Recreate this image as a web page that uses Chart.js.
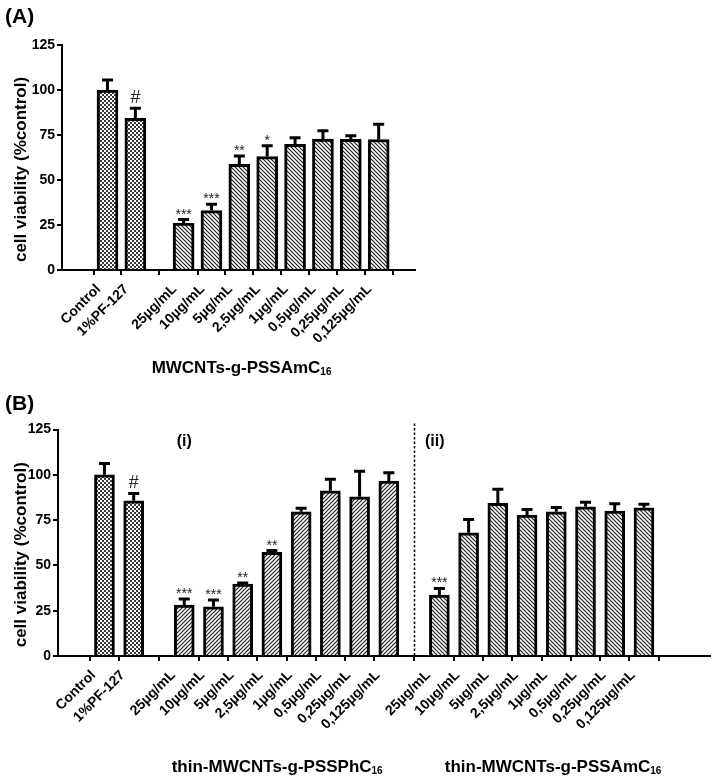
<!DOCTYPE html>
<html>
<head>
<meta charset="utf-8">
<script src="https://cdn.jsdelivr.net/npm/chart.js@4.4.0/dist/chart.umd.min.js"></script>
<style>
html, body { margin: 0; padding: 0; background: #fff; }
#wrap { position: relative; width: 715px; height: 782px; }
canvas { position: absolute; left: 0; }
#chartA { top: 0; }
#chartB { top: 390px; }
</style>
</head>
<body>
<div id="wrap">
  <canvas id="chartA" width="715" height="390"></canvas>
  <canvas id="chartB" width="715" height="392"></canvas>
</div>
<script>
// dados
const labelsA = ['Control', '1%PF-127', '25µg/mL', '10µg/mL', '5µg/mL', '2,5µg/mL', '1µg/mL', '0,5µg/mL', '0,25µg/mL', '0,125µg/mL'];
const valuesA = [100, 84.3, 26, 33, 58.7, 63, 69.8, 72.8, 72.6, 72.5];
const errorsA = [5.5, 5.5, 2, 3.5, 4.6, 6, 3.7, 4.6, 2, 8.5];
const marksA  = ['', '#', '***', '***', '**', '*', '', '', '', ''];

const concLabels = ['25µg/mL', '10µg/mL', '5µg/mL', '2,5µg/mL', '1µg/mL', '0,5µg/mL', '0,25µg/mL', '0,125µg/mL'];
const labelsB = ['Control', '1%PF-127'].concat(concLabels, concLabels);
const valuesB = [100, 85.7, 28.1, 27.2, 39.7, 57.2, 79.6, 91.2, 87.9, 96.5,
                 33.6, 68, 84.2, 77.8, 79.6, 82.3, 80, 81.8];
const errorsB = [6.3, 4, 3.3, 3.7, 0.6, 1, 2, 6.4, 14, 4.6,
                 3.7, 7.4, 7.8, 3, 2.4, 2.5, 4, 2];
const marksB  = ['', '#', '***', '***', '**', '**', '', '', '', '',
                 '***', '', '', '', '', '', '', ''];

const FONT = "'Liberation Sans', Arial, sans-serif";
const GAP = 0.73; // espaço extra entre grupos (em larguras de barra)

// posição de cada barra no eixo x: controlos, depois grupos de 8 separados por GAP
function posicoes(n) {
    const out = [];
    for (let i = 0; i < n; i++) {
        if (i < 2) out.push(i);
        else out.push(i + GAP * (1 + Math.floor((i - 2) / 8)));
    }
    return out;
}
const posA = posicoes(labelsA.length);
const posB = posicoes(labelsB.length);

function makePattern(ctx, kind) {
    const c = document.createElement('canvas');
    const g = c.getContext('2d');
    const n = 4;
    c.width = n; c.height = n;
    g.fillStyle = '#fff';
    g.fillRect(0, 0, n, n);
    if (kind === 'check') {
        g.fillStyle = '#3a3a3a';
        g.fillRect(0, 0, 2, 2);
        g.fillRect(2, 2, 2, 2);
    } else {
        g.strokeStyle = '#222';
        g.lineWidth = 1.2;
        g.beginPath();
        if (kind === 'back') {
            g.moveTo(-1, -1); g.lineTo(n + 1, n + 1);
            g.moveTo(-1, n - 1); g.lineTo(1, n + 1);
            g.moveTo(n - 1, -1); g.lineTo(n + 1, 1);
        } else {
            g.moveTo(-1, n + 1); g.lineTo(n + 1, -1);
            g.moveTo(-1, 1); g.lineTo(1, -1);
            g.moveTo(n - 1, n + 1); g.lineTo(n + 1, n - 1);
        }
        g.stroke();
    }
    return ctx.createPattern(c, 'repeat');
}

// barras de erro (só para cima) + asteriscos
const errorBars = {
    id: 'errorBars',
    afterDatasetsDraw(chart, args, opts) {
        const { ctx, scales: { y } } = chart;
        const meta = chart.getDatasetMeta(0);
        const ds = chart.data.datasets[0];
        ctx.save();
        meta.data.forEach((bar, i) => {
            const top = y.getPixelForValue(ds.data[i].y + opts.errors[i]);
            ctx.strokeStyle = '#000';
            ctx.lineWidth = 3;
            ctx.beginPath();
            ctx.moveTo(bar.x, bar.y);
            ctx.lineTo(bar.x, top);
            ctx.moveTo(bar.x - 5.5, top);
            ctx.lineTo(bar.x + 5.5, top);
            ctx.stroke();
            const m = opts.marks[i];
            if (m) {
                ctx.fillStyle = '#222';
                ctx.textAlign = 'center';
                ctx.textBaseline = 'alphabetic';
                if (m === '#') {
                    ctx.font = '18px ' + FONT;
                    ctx.fillText(m, bar.x, top - 5);
                } else {
                    ctx.font = '14px ' + FONT;
                    ctx.fillText(m, bar.x, top - 1);
                }
            }
        });
        ctx.restore();
    }
};

// texto com índice "16" em baixo
function subText(ctx, main, sub, cx, baseline) {
    ctx.font = 'bold 17px ' + FONT;
    const w1 = ctx.measureText(main).width;
    ctx.font = 'bold 10px ' + FONT;
    const w2 = ctx.measureText(sub).width;
    const x0 = cx - (w1 + w2) / 2;
    ctx.textAlign = 'left';
    ctx.textBaseline = 'alphabetic';
    ctx.font = 'bold 17px ' + FONT;
    ctx.fillText(main, x0, baseline);
    ctx.font = 'bold 10px ' + FONT;
    ctx.fillText(sub, x0 + w1, baseline + 2);
}

const decor = {
    id: 'decor',
    afterDraw(chart, args, opts) {
        const { ctx, chartArea, scales: { x } } = chart;
        ctx.save();
        ctx.fillStyle = '#000';
        // letra do painel
        ctx.font = 'bold 21px ' + FONT;
        ctx.textAlign = 'left';
        ctx.textBaseline = 'alphabetic';
        ctx.fillText(opts.letter, 5, opts.letterY);
        // título do eixo y
        ctx.save();
        ctx.translate(21, (chartArea.top + chartArea.bottom) / 2 + 12);
        ctx.rotate(-Math.PI / 2);
        ctx.font = 'bold 17px ' + FONT;
        ctx.textAlign = 'center';
        ctx.textBaseline = 'middle';
        ctx.fillText('cell viability (%control)', 0, 0);
        ctx.restore();
        // títulos dos grupos
        opts.groups.forEach(gr => subText(ctx, gr.text, '16', x.getPixelForValue(gr.at), opts.titleY));
        // (i) / (ii)
        ctx.font = 'bold 16px ' + FONT;
        ctx.textAlign = 'center';
        (opts.tags || []).forEach(t => ctx.fillText(t.text, x.getPixelForValue(t.at), chartArea.top + 16));
        // linha tracejada
        if (opts.divider !== undefined) {
            const dx = Math.round(x.getPixelForValue(opts.divider)) + 0.5;
            ctx.strokeStyle = '#000';
            ctx.lineWidth = 1.5;
            ctx.setLineDash([2.5, 2]);
            ctx.beginPath();
            ctx.moveTo(dx, chartArea.top - 6);
            ctx.lineTo(dx, chartArea.bottom);
            ctx.stroke();
        }
        ctx.restore();
    }
};

function axes(labels, pos, xmin, xmax, yWidth, xHeight, shift) {
    const tickFont = { family: FONT, size: 14, weight: 'bold' };
    return {
        x: {
            type: 'linear', min: xmin, max: xmax,
            afterBuildTicks: s => { s.ticks = pos.map(v => ({ value: v })); },
            afterFit: s => { s.height = xHeight; },
            ticks: {
                autoSkip: false, minRotation: 45, maxRotation: 45, padding: 6, labelOffset: shift,
                callback: (v, i) => labels[i], font: tickFont, color: '#000'
            },
            grid: { drawOnChartArea: false, drawTicks: true, tickLength: 5, color: '#000', lineWidth: 2 },
            border: { display: true, color: '#000', width: 2 }
        },
        y: {
            min: 0, max: 125,
            afterFit: s => { s.width = yWidth; },
            ticks: { stepSize: 25, padding: 2, color: '#000', font: { family: FONT, size: 14, weight: 'bold' } },
            grid: { drawOnChartArea: false, drawTicks: true, tickLength: 5, color: '#000', lineWidth: 2 },
            border: { display: true, color: '#000', width: 2 }
        }
    };
}

function desenharPainel(id, cfg) {
    const ctx = document.getElementById(id).getContext('2d');
    const fills = cfg.labels.map((_, i) => {
        if (i < 2) return makePattern(ctx, 'check');
        return makePattern(ctx, cfg.hatch[Math.floor((i - 2) / 8)]);
    });
    return new Chart(ctx, {
        type: 'bar',
        data: {
            datasets: [{
                data: cfg.values.map((v, i) => ({ x: cfg.pos[i], y: v })),
                backgroundColor: fills,
                borderColor: '#000',
                borderWidth: 3,
                barThickness: cfg.barW
            }]
        },
        options: {
            responsive: false,
            animation: false,
            devicePixelRatio: 1,
            layout: { padding: cfg.padding },
            plugins: {
                legend: { display: false },
                tooltip: { enabled: false },
                errorBars: { errors: cfg.errors, marks: cfg.marks },
                decor: cfg.decor
            },
            scales: axes(cfg.labels, cfg.pos, cfg.xmin, cfg.xmax, cfg.yWidth, cfg.xHeight, cfg.shift)
        },
        plugins: [errorBars, decor]
    });
}

desenharPainel('chartA', {
    labels: labelsA, values: valuesA, errors: errorsA, marks: marksA, pos: posA,
    hatch: ['back'], barW: 21, xmin: -1, xmax: 10.4, yWidth: 62, xHeight: 120, shift: -9,
    padding: { top: 45, right: 300, left: 0, bottom: 0 },
    decor: {
        letter: '(A)', letterY: 23, titleY: 373,
        groups: [{ text: 'MWCNTs-g-PSSAmC', at: 4.81 }]
    }
});

desenharPainel('chartB', {
    labels: labelsB, values: valuesB, errors: errorsB, marks: marksB, pos: posB,
    hatch: ['fwd', 'back'], barW: 20, xmin: -0.97, xmax: 20.1, yWidth: 58, xHeight: 126, shift: -11,
    padding: { top: 39.5, right: 5, left: 0, bottom: 0 },
    decor: {
        letter: '(B)', letterY: 20, titleY: 382,
        groups: [{ text: 'thin-MWCNTs-g-PSSPhC', at: 5.91 }, { text: 'thin-MWCNTs-g-PSSAmC', at: 15.35 }],
        tags: [{ text: '(i)', at: 2.73 }, { text: '(ii)', at: 11.3 }],
        divider: 10.6
    }
});
</script>
</body>
</html>
